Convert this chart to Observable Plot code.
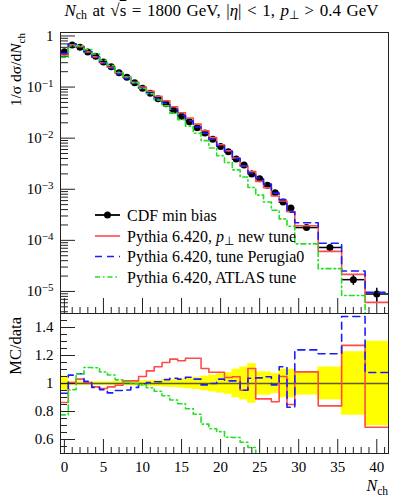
<!DOCTYPE html>
<html><head><meta charset="utf-8">
<script src="https://cdn.jsdelivr.net/npm/d3@7"></script>
<script src="https://cdn.jsdelivr.net/npm/@observablehq/plot@0.6"></script>
<style>
body{margin:0;background:#fff;}
#wrap{position:relative;width:406px;height:500px;font-family:"Liberation Serif","Times New Roman",serif;color:#000;}
#title{position:absolute;top:1px;left:30px;width:383px;text-align:center;font-size:17px;word-spacing:1.3px;white-space:nowrap;}
#title sub{font-size:70%;vertical-align:-0.25em;line-height:0;word-spacing:0;}
#main,#ratio{position:absolute;left:0;}
#main{top:0;}
#ratio{top:300px;}
#legend{position:absolute;left:0;top:0;pointer-events:none;}
</style>
</head><body>
<div id="wrap">
  <div id="main"></div>
  <div id="ratio"></div>
  <div id="title"><i>N</i><sub>ch</sub> at √<span style="text-decoration:overline">s</span> = 1800 GeV, |<i>η</i>| &lt; 1, <i>p</i><sub>⊥</sub> &gt; 0.4 GeV</div>
  <svg id="legend" width="406" height="500"></svg>
</div>
<script>
// ---------- data ----------
const nch = [0,1,2,3,4,5,6,7,8,9,10,11,12,13,14,15,16,17,18,19,20,21,22,23,24,25,26,27,28,29,31,34,37,40];
const binWidth = [1,1,1,1,1,1,1,1,1,1,1,1,1,1,1,1,1,1,1,1,1,1,1,1,1,1,1,1,1,1,3,3,3,3];
const cdfMinBias = [0.49,0.667,0.60,0.485,0.40,0.31,0.25,0.19,0.155,0.122,0.095,0.076,0.059,0.047,0.035,0.027,0.021,0.016,0.0126,0.0095,0.0069,0.0054,0.0039,0.0030,0.0020,0.0016,0.0012,0.00085,0.00056,0.00043,0.000178,0.0000725,0.000017,0.0000089];
const cdfRelErr = [0.05,0.012,0.01,0.01,0.01,0.01,0.01,0.012,0.013,0.015,0.017,0.019,0.021,0.024,0.026,0.03,0.036,0.042,0.05,0.058,0.066,0.075,0.1,0.115,0.14,0.08,0.08,0.07,0.1,0.1,0.08,0.115,0.225,0.3];
const ratioPtNewTune = [0.864,1.007,1.031,1.007,0.976,0.964,0.976,0.988,1.019,1.019,1.05,1.09,1.12,1.15,1.174,1.162,1.18,1.18,1.107,1.08,1.08,1.043,1.048,0.952,1.107,0.89,0.89,0.87,1.05,0.85,1.083,0.84,1.272,0.687];
const ratioPerugia0 = [0.93,1.06,1.07,1.015,0.972,0.956,0.933,0.95,0.954,0.972,0.998,1.007,1.013,1.028,1.038,1.031,1.045,1.031,0.99,1.0,1.031,1.019,1.019,0.952,1.038,1.04,1.048,0.99,1.12,0.83,1.24,1.213,1.479,1.079];
const ratioATLAS = [0.776,0.955,1.069,1.114,1.112,1.082,1.061,1.026,1.013,1.0,0.99,0.97,0.945,0.912,0.882,0.855,0.82,0.78,0.71,0.677,0.656,0.616,0.614,0.58,0.543,0.48,0.47,0.457,0.47,0.44,0.48,0.385,0.49,0];
const seriesNames = ["CDF min bias","Pythia 6.420, p⊥ new tune","Pythia 6.420, tune Perugia0","Pythia 6.420, ATLAS tune"];
const seriesColors = ["#000000","#ff4a4a","#1c1cff","#22e022"];
const xTicks = [0,5,10,15,20,25,30,35,40];
const yMainTicks = [1,1e-1,1e-2,1e-3,1e-4,1e-5];
const yRatioTicks = [0.6,0.8,1,1.2,1.4];

// ---------- layout ----------
const W = 406, ML = 60, MR = 18;
const FW = W - ML - MR;
const mainH = 314, mainMT = 32, mainMB = 1, mainFH = mainH - mainMT - mainMB;
const ratH = 200, ratMT = 13, ratMB = 47, ratFH = ratH - ratMT - ratMB;
const xDomain = [-0.5, 41.5];
const yMainDomain = [3.7e-6, 1.17];
const yRatioDomain = [0.5, 1.5];
const font = {fontFamily: "Liberation Serif, Times New Roman, serif", fontSize: "15px", background: "transparent", overflow: "visible"};

// ---------- derived tables ----------
const bins = nch.map((x,i) => ({x, lo: x - binWidth[i]/2, hi: x + binWidth[i]/2, v: cdfMinBias[i], e: cdfRelErr[i]}));
function steps(vals, floor) {
  const out = [];
  bins.forEach((b,i) => { const v = vals[i] > 0 ? vals[i] : floor; out.push({x: b.lo, y: v}, {x: b.hi, y: v}); });
  return out;
}
const mcRatios = [ratioPtNewTune, ratioPerugia0, ratioATLAS];
const mcMain = mcRatios.map(r => r.map((q,i) => q * cdfMinBias[i]));
const dashes = [null, "7,5", "5,3,1.5,3"];

const yMinor = [];
for (let n = -6; n <= 0; n++) for (let k = 2; k <= 9; k++) { const v = k * Math.pow(10, n); if (v >= yMainDomain[0] && v <= yMainDomain[1]) yMinor.push(v); }
const xMinor = d3.range(0, 42).filter(v => v % 5 !== 0);
const yRatMinor = d3.range(0.55, 1.5, 0.05).map(v => +v.toFixed(2)).filter(v => Math.abs((v*10) - Math.round(v*10)) > 1e-6 || Math.round(v*10) % 2 === 1);

// ---------- main panel ----------
const mainMarks = [
  Plot.tickY(yMainTicks, {y: d => d, insetRight: FW - 15, stroke: "#222"}),
  Plot.tickY(yMinor, {y: d => d, insetRight: FW - 8, stroke: "#222"}),
  Plot.tickX(xTicks, {x: d => d, insetTop: mainFH - 15, stroke: "#222"}),
  Plot.tickX(xMinor, {x: d => d, insetTop: mainFH - 6, stroke: "#222"}),
  Plot.axisY(yMainTicks, {tickSize: 0, tickPadding: 7, label: null, fontSize: 15,
    tickFormat: d => d === 1 ? "1" : "10^" + Math.round(Math.log10(d))}),
  Plot.ruleY(bins, {y: "v", x1: "lo", x2: "hi", stroke: "#000", strokeWidth: 1.5, clip: true}),
  Plot.ruleX(bins, {x: "x", y1: d => d.v * (1 - d.e), y2: d => d.v * (1 + d.e), stroke: "#000", strokeWidth: 1.5, clip: true}),
  Plot.dot(bins, {x: "x", y: "v", r: 3.5, fill: "#000", stroke: null}),
];
mcMain.forEach((vals, k) => {
  mainMarks.push(Plot.line(steps(vals, 1e-9), {x: "x", y: "y", stroke: seriesColors[k+1], strokeWidth: 1.6, strokeDasharray: dashes[k], clip: true}));
});
mainMarks.push(Plot.frame({stroke: "#222", strokeWidth: 1}));

const mainPlot = Plot.plot({
  width: W, height: mainH, marginLeft: ML, marginRight: MR, marginTop: mainMT, marginBottom: mainMB,
  style: font,
  x: {domain: xDomain, axis: null},
  y: {type: "log", domain: yMainDomain},
  marks: mainMarks
});
document.getElementById("main").appendChild(mainPlot);

// superscripts on log tick labels
mainPlot.querySelectorAll('[aria-label="y-axis tick label"] text').forEach(t => {
  const s = t.textContent;
  if (s.startsWith("10^")) {
    const ex = s.slice(3).replace("-", "−");
    t.textContent = "";
    const ns = "http://www.w3.org/2000/svg";
    const a = document.createElementNS(ns, "tspan"); a.textContent = "10"; t.appendChild(a);
    const b = document.createElementNS(ns, "tspan"); b.textContent = ex; b.setAttribute("font-size", "11"); b.setAttribute("dy", "-5"); t.appendChild(b);
  }
});
{
  const lab = d3.select(mainPlot).append("text")
    .attr("transform", `translate(21,${mainMT + 1}) rotate(-90)`)
    .attr("text-anchor", "end").attr("font-size", 15.5).attr("fill", "#000");
  lab.append("tspan").text("1/σ dσ/d");
  lab.append("tspan").attr("font-style", "italic").text("N");
  lab.append("tspan").attr("font-size", 11).attr("dy", 4).text("ch");
}

// ---------- ratio panel ----------
const ratioMarks = [
  Plot.rect(bins, {x1: "lo", x2: "hi", y1: d => Math.max(0.5, 1 - d.e), y2: d => Math.min(1.5, 1 + d.e), fill: "#ffff00", stroke: "#ffff00", strokeWidth: 0.5}),
  Plot.ruleY([1], {stroke: "#5e5e18", strokeWidth: 1.3}),
];
mcRatios.forEach((vals, k) => {
  ratioMarks.push(Plot.line(steps(vals, 0.01), {x: "x", y: "y", stroke: seriesColors[k+1], strokeWidth: 1.6, strokeDasharray: dashes[k], clip: true}));
});
ratioMarks.push(
  Plot.tickY(yRatioTicks, {y: d => d, insetRight: FW - 15, stroke: "#222"}),
  Plot.tickY(yRatMinor, {y: d => d, insetRight: FW - 7, stroke: "#222"}),
  Plot.tickX(xTicks, {x: d => d, insetTop: ratFH - 14, stroke: "#222"}),
  Plot.tickX(xMinor, {x: d => d, insetTop: ratFH - 6, stroke: "#222"}),
  Plot.axisY(yRatioTicks, {tickSize: 0, tickPadding: 7, label: null, fontSize: 15, tickFormat: d => d === 1 ? "1" : d.toFixed(1)}),
  Plot.axisX(xTicks, {tickSize: 0, tickPadding: 8, label: null, fontSize: 15, tickFormat: d => String(d)}),
  Plot.frame({stroke: "#222", strokeWidth: 1})
);
const ratioPlot = Plot.plot({
  width: W, height: ratH, marginLeft: ML, marginRight: MR, marginTop: ratMT, marginBottom: ratMB,
  style: font,
  x: {domain: xDomain},
  y: {domain: yRatioDomain},
  marks: ratioMarks
});
document.getElementById("ratio").appendChild(ratioPlot);
{
  d3.select(ratioPlot).append("text")
    .attr("transform", `translate(21,${ratMT + 4}) rotate(-90)`)
    .attr("text-anchor", "end").attr("font-size", 16.5).attr("fill", "#000").text("MC/data");
  const xl = d3.select(ratioPlot).append("text")
    .attr("x", W - MR).attr("y", 191).attr("text-anchor", "end").attr("font-size", 16).attr("fill", "#000");
  xl.append("tspan").attr("font-style", "italic").text("N");
  xl.append("tspan").attr("font-size", 11.5).attr("dy", 4).text("ch");
}

// ---------- legend ----------
{
  const lg = d3.select("#legend").attr("font-family", "Liberation Serif, Times New Roman, serif").attr("font-size", 16);
  const rowY = [215, 236, 256.5, 277];
  seriesNames.forEach((name, i) => {
    const y = rowY[i];
    lg.append("line").attr("x1", 95).attr("x2", 120).attr("y1", y).attr("y2", y)
      .attr("stroke", seriesColors[i]).attr("stroke-width", i === 0 ? 1.8 : 1.6)
      .attr("stroke-dasharray", i === 0 ? null : dashes[i-1]);
    if (i === 0) lg.append("circle").attr("cx", 107.5).attr("cy", y).attr("r", 3.5).attr("fill", "#000");
    const t = lg.append("text").attr("x", 127).attr("y", y + 5.5).attr("fill", "#000");
    if (name.includes("p⊥")) {
      const [a, b] = name.split("p⊥");
      t.append("tspan").text(a);
      t.append("tspan").attr("font-style", "italic").text("p");
      t.append("tspan").attr("font-size", 11.5).attr("dy", 3.5).text("⊥");
      t.append("tspan").attr("dy", -3.5).attr("font-size", 16).text(b);
    } else t.text(name);
  });
}
</script>
</body></html>
